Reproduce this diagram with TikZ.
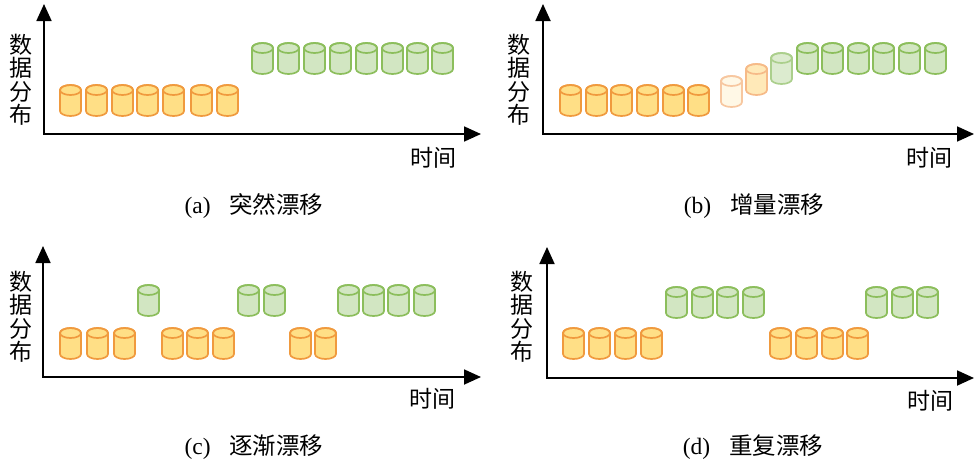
\documentclass[tikz,border=0pt]{standalone}
\usepackage{fontspec}
\setmainfont{Liberation Serif}
\newfontfamily\cjk{Noto Sans CJK SC}
\usetikzlibrary{arrows.meta}
\definecolor{oStroke}{HTML}{F09A3E}
\definecolor{oFill}{HTML}{FFDF86}
\definecolor{gStroke}{HTML}{8CBE5C}
\definecolor{gFill}{HTML}{D2E6C2}
\definecolor{oaStroke}{HTML}{F7C7A0}
\definecolor{oaFill}{HTML}{FFF8E6}
\definecolor{obStroke}{HTML}{F6BA88}
\definecolor{obFill}{HTML}{FFE9B8}
\definecolor{gaStroke}{HTML}{ABCF8C}
\definecolor{gaFill}{HTML}{DCEBCF}
\tikzset{
  x=1pt, y=1pt,
  org/.style={draw=oStroke, fill=oFill},
  grn/.style={draw=gStroke, fill=gFill},
  orgA/.style={draw=oaStroke, fill=oaFill},
  orgB/.style={draw=obStroke, fill=obFill},
  grnA/.style={draw=gaStroke, fill=gaFill},
  axisline/.style={line width=1.8pt, {Triangle[length=17pt,width=15pt]}-{Triangle[length=17pt,width=15pt]}},
  ylab/.style={font=\fontsize{23}{23.5}\selectfont\cjk, align=center, inner sep=0pt},
  xlab/.style={font=\fontsize{23}{24}\selectfont\cjk, inner sep=0pt},
  captext/.style={font=\fontsize{23.5}{25}\selectfont, inner sep=0pt},
}
\newcommand\drum[3]{%
  \begin{scope}[shift={(#1,-#2)}]
    \path[#3, line width=1.7pt] (0,-5) -- (0,-26)
      arc[start angle=180, end angle=360, x radius=10.5, y radius=5]
      -- (21,-5) arc[start angle=0, end angle=180, x radius=10.5, y radius=5] -- cycle;
    \path[#3, fill=none, line width=1.7pt] (10.5,-5) ellipse[x radius=10.5, y radius=5];
  \end{scope}}
\begin{document}
\begin{tikzpicture}
\useasboundingbox (0,0) rectangle (974,-464);
% ---------- panel (a)
\coordinate (oa) at (44,-134);
\coordinate (ya) at (44,-4);
\coordinate (xa) at (481,-134);
\draw[axisline] (ya) -- (oa) -- (xa);
\node[ylab] (la) at (21,-80) {数\\据\\分\\布};
\node[xlab] (ta) at (433.5,-157.5) {时间};
\node[captext] (ca) at (254,-206) {(a)\hspace{0.8em}{\cjk 突然漂移}};
\foreach \x in {60,86,112,137,163,191,217} {\drum{\x}{85}{org}}
\foreach \x in {252,278,304,330,356,382,407,432} {\drum{\x}{43}{grn}}
% ---------- panel (b)
\coordinate (ob) at (543,-134);
\coordinate (yb) at (543,-4);
\coordinate (xb) at (974,-134);
\draw[axisline] (yb) -- (ob) -- (xb);
\node[ylab] (lb) at (519,-80) {数\\据\\分\\布};
\node[xlab] (tb) at (929.5,-157.5) {时间};
\node[captext] (cb) at (754,-206) {(b)\hspace{0.8em}{\cjk 增量漂移}};
\foreach \x in {560,586,611,637,663,688} {\drum{\x}{85}{org}}
\drum{721}{76}{orgA}
\drum{746}{64}{orgB}
\drum{771}{53}{grnA}
\foreach \x in {797,822,848,873,899,925} {\drum{\x}{43}{grn}}
% ---------- panel (c)
\coordinate (oc) at (43,-377);
\coordinate (yc) at (43,-246);
\coordinate (xc) at (481,-377);
\draw[axisline] (yc) -- (oc) -- (xc);
\node[ylab] (lc) at (21,-317) {数\\据\\分\\布};
\node[xlab] (tc) at (432.5,-399) {时间};
\node[captext] (cc) at (254,-447) {(c)\hspace{0.8em}{\cjk 逐渐漂移}};
\foreach \x in {60,87,114,162,187,213,290,315} {\drum{\x}{328}{org}}
\foreach \x in {138,238,264,338,363,388,414} {\drum{\x}{285}{grn}}
% ---------- panel (d)
\coordinate (od) at (547,-378);
\coordinate (yd) at (547,-247);
\coordinate (xd) at (974,-378);
\draw[axisline] (yd) -- (od) -- (xd);
\node[ylab] (ld) at (522,-317) {数\\据\\分\\布};
\node[xlab] (td) at (930.5,-401) {时间};
\node[captext] (cd) at (753,-447) {(d)\hspace{0.8em}{\cjk 重复漂移}};
\foreach \x in {563,589,615,641,770,796,822,847} {\drum{\x}{328}{org}}
\foreach \x in {666,692,717,743,866,892,917} {\drum{\x}{287}{grn}}
\end{tikzpicture}
\end{document}
